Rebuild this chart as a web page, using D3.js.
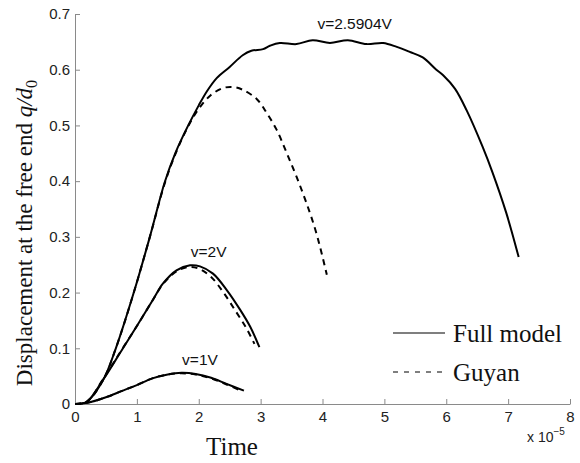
<!DOCTYPE html>
<html><head><meta charset="utf-8">
<script src="https://cdn.jsdelivr.net/npm/d3@7"></script>
<style>body{margin:0;background:#fff}svg{display:block}</style>
</head><body>
<script>
const xTicks=[0,1,2,3,4,5,6,7,8];
const yTicks=[0,0.1,0.2,0.3,0.4,0.5,0.6,0.7];
const yTickLabels=["0","0.1","0.2","0.3","0.4","0.5","0.6","0.7"];
// time (x 1e-5), displacement q/d0
const full3=[[0,0],[0.19,0.004],[0.45,0.042],[0.66,0.100],[0.95,0.200],[1.21,0.300],[1.45,0.398],[1.62,0.450],[1.83,0.500],[2.0,0.536],[2.13,0.561],[2.29,0.585],[2.50,0.605],[2.71,0.626],[2.85,0.634],[3.04,0.637],[3.15,0.643],[3.31,0.648],[3.58,0.646],[3.84,0.653],[4.12,0.648],[4.41,0.653],[4.71,0.646],[4.98,0.648],[5.20,0.641],[5.41,0.632],[5.62,0.622],[5.84,0.600],[5.95,0.590],[6.14,0.566],[6.33,0.527],[6.59,0.461],[6.75,0.415],[6.97,0.343],[7.17,0.264]];
const guyan3=[[0,0],[0.19,0.004],[0.45,0.042],[0.66,0.100],[0.95,0.200],[1.21,0.300],[1.45,0.396],[1.62,0.448],[1.80,0.492],[1.97,0.525],[2.18,0.553],[2.39,0.567],[2.55,0.569],[2.71,0.564],[2.94,0.547],[3.10,0.522],[3.26,0.492],[3.42,0.451],[3.58,0.408],[3.74,0.361],[3.90,0.307],[4.07,0.232]];
const full2=[[0,0],[0.19,0.004],[0.45,0.043],[0.73,0.092],[1.0,0.140],[1.26,0.187],[1.42,0.216],[1.64,0.240],[1.86,0.249],[2.02,0.247],[2.23,0.234],[2.45,0.205],[2.67,0.169],[2.83,0.139],[2.98,0.102]];
const guyan2=[[0,0],[0.19,0.004],[0.45,0.044],[0.73,0.093],[1.0,0.140],[1.26,0.187],[1.42,0.215],[1.64,0.238],[1.84,0.246],[2.0,0.243],[2.2,0.228],[2.4,0.200],[2.6,0.166],[2.77,0.136],[2.90,0.108]];
const full1=[[0,0],[0.2,0.002],[0.5,0.012],[0.75,0.023],[1.0,0.034],[1.25,0.046],[1.5,0.053],[1.72,0.056],[1.95,0.054],[2.2,0.047],[2.45,0.036],[2.73,0.024]];
const guyan1=[[0,0],[0.2,0.002],[0.5,0.012],[0.75,0.023],[1.0,0.034],[1.25,0.046],[1.5,0.053],[1.72,0.055],[1.95,0.053],[2.2,0.046],[2.45,0.035],[2.70,0.023]];
const annotations=[{t:"v=2.5904V",x:4.52,y:0.673},{t:"v=2V",x:2.16,y:0.264},{t:"v=1V",x:2.02,y:0.070}];
const legendItems=[{name:"Full model",dash:null},{name:"Guyan",dash:"5,6"}];

const W=580,H=463;
const svg=d3.select("body").append("svg").attr("width",W).attr("height",H);
const x=d3.scaleLinear().domain([0,8]).range([75,570]);
const y=d3.scaleLinear().domain([0,0.7]).range([404,14]);
const axCol="#8a8a8a";

const xAxis=d3.axisBottom(x).tickValues(xTicks).tickSizeInner(-5).tickSizeOuter(0).tickPadding(6).tickFormat(d3.format("d"));
const gx=svg.append("g").attr("transform","translate(0,404)").call(xAxis);
const yAxis=d3.axisLeft(y).tickValues(yTicks).tickSizeInner(-5).tickSizeOuter(0).tickPadding(5).tickFormat((d,i)=>yTickLabels[i]);
const gy=svg.append("g").attr("transform","translate(75,0)").call(yAxis);
[gx,gy].forEach(g=>{
  g.select(".domain").attr("stroke",axCol).attr("stroke-width",1);
  g.selectAll(".tick line").attr("stroke",axCol);
  g.selectAll(".tick text").attr("fill","#222").style("font-family","Liberation Sans, Arial, sans-serif").style("font-size","15px");
});
gx.selectAll(".tick text").attr("dy","0.8em");

const line=d3.line().x(d=>x(d[0])).y(d=>y(d[1])).curve(d3.curveCatmullRom.alpha(0.5));
const series=[[full3,null],[guyan3,"6,5"],[full2,null],[guyan2,"6,5"],[full1,null],[guyan1,"6,5"]];
svg.append("g").selectAll("path").data(series).join("path")
  .attr("d",d=>line(d[0])).attr("fill","none").attr("stroke","#000").attr("stroke-width",2)
  .attr("stroke-dasharray",d=>d[1]);

svg.append("g").selectAll("text").data(annotations).join("text")
  .attr("x",d=>x(d.x)).attr("y",d=>y(d.y)).attr("text-anchor","middle")
  .style("font-family","Liberation Sans, Arial, sans-serif").style("font-size","15.5px").attr("fill","#111")
  .text(d=>d.t);

// legend
const lg=svg.append("g").selectAll("g").data(legendItems).join("g")
  .attr("transform",(d,i)=>`translate(393,${333+i*39})`);
lg.append("line").attr("x1",0).attr("x2",52).attr("stroke","#000").attr("stroke-width",1.2).attr("stroke-dasharray",d=>d.dash);
lg.append("text").attr("x",60).attr("y",9).style("font-family","Liberation Serif, Times New Roman, serif").style("font-size","25px").attr("fill","#111").text(d=>d.name);

// axis labels
svg.append("text").attr("x",232).attr("y",455).attr("text-anchor","middle")
  .style("font-family","Liberation Serif, Times New Roman, serif").style("font-size","25px").attr("fill","#111").text("Time");
const yl=svg.append("text").attr("transform","translate(32,233) rotate(-90)").attr("text-anchor","middle")
  .style("font-family","Liberation Serif, Times New Roman, serif").style("font-size","23px").attr("fill","#111");
yl.append("tspan").text("Displacement at the free end ");
yl.append("tspan").style("font-style","italic").text("q/d");
yl.append("tspan").attr("dy","5").style("font-size","16px").text("0");

const ex=svg.append("text").attr("x",527).attr("y",442)
  .style("font-family","Liberation Sans, Arial, sans-serif").style("font-size","14px").attr("fill","#222");
ex.append("tspan").text("x 10");
ex.append("tspan").attr("dy","-7").style("font-size","10px").text("−5");
</script>
</body></html>
